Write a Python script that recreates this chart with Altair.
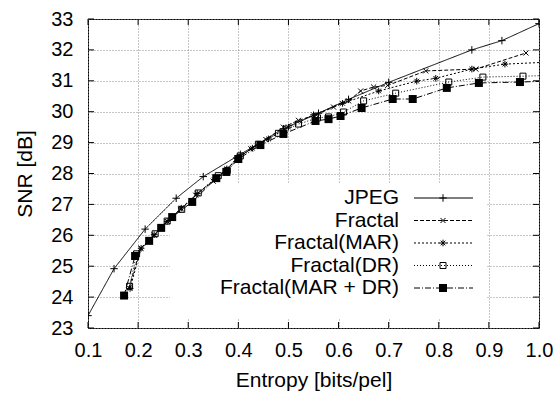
import altair as alt
import pandas as pd

names = ["JPEG", "Fractal", "Fractal(MAR)", "Fractal(DR)", "Fractal(MAR + DR)"]

jpeg_x = [0.1, 0.152, 0.214, 0.276, 0.33, 0.404, 0.49, 0.56, 0.62, 0.70, 0.866, 0.926, 1.0]
jpeg_y = [23.4, 24.92, 26.2, 27.2, 27.9, 28.62, 29.45, 29.95, 30.4, 30.95, 32.0, 32.3, 32.85]

frac_x = [0.182, 0.205, 0.232, 0.258, 0.285, 0.315, 0.35, 0.375, 0.395, 0.425, 0.455, 0.49, 0.52,
          0.555, 0.59, 0.62, 0.644, 0.67, 0.698, 0.774, 0.874, 0.974]
frac_y = [24.3, 25.58, 26.0, 26.45, 26.85, 27.3, 27.75, 28.1, 28.45, 28.8, 29.1, 29.5, 29.72,
          29.9, 30.15, 30.35, 30.67, 30.8, 30.85, 31.32, 31.38, 31.9]

mar_x = [0.184, 0.206, 0.232, 0.258, 0.286, 0.318, 0.352, 0.377, 0.398, 0.428, 0.46, 0.5, 0.55,
         0.608, 0.68, 0.756, 0.794, 0.866, 0.932, 1.04]
mar_y = [24.28, 25.58, 26.02, 26.45, 26.88, 27.35, 27.8, 28.15, 28.48, 28.82, 29.12, 29.5, 29.9,
         30.27, 30.67, 30.99, 31.08, 31.38, 31.54, 31.62]

dr_x = [0.183, 0.197, 0.234, 0.258, 0.287, 0.32, 0.36, 0.378, 0.404, 0.44, 0.48, 0.52, 0.558,
        0.58, 0.61, 0.65, 0.714, 0.82, 0.888, 0.968, 1.04]
dr_y = [24.35, 25.4, 26.05, 26.46, 26.84, 27.37, 27.93, 28.1, 28.57, 28.95, 29.3, 29.6, 29.8,
        29.83, 29.99, 30.35, 30.6, 30.96, 31.12, 31.15, 31.18]

mardr_x = [0.172, 0.194, 0.222, 0.246, 0.268, 0.308, 0.356, 0.376, 0.40, 0.444, 0.49, 0.554,
           0.58, 0.604, 0.646, 0.708, 0.748, 0.816, 0.88, 0.962, 1.04]
mardr_y = [24.05, 25.33, 25.82, 26.24, 26.59, 27.08, 27.85, 28.05, 28.47, 28.92, 29.28, 29.7,
           29.76, 29.86, 30.12, 30.41, 30.41, 30.77, 30.93, 30.96, 31.0]

x_ticks = [0.1, 0.2, 0.3, 0.4, 0.5, 0.6, 0.7, 0.8, 0.9, 1.0]
y_ticks = [23, 24, 25, 26, 27, 28, 29, 30, 31, 32, 33]

rows = []
for nm, xs_, ys_ in zip(names, [jpeg_x, frac_x, mar_x, dr_x, mardr_x],
                        [jpeg_y, frac_y, mar_y, dr_y, mardr_y]):
    for a, b in zip(xs_, ys_):
        rows.append({"series": nm, "x": a, "y": b})
df = pd.DataFrame(rows)

FONT = "Liberation Sans"
W, H = 451, 309

xs = alt.Scale(domain=[0.1, 1.0], nice=False, zero=False)
ys = alt.Scale(domain=[23, 33], nice=False, zero=False)

PLUS = "M-1,0L1,0M0,-1L0,1"
CROSS = "M-0.7,-0.7L0.7,0.7M-0.7,0.7L0.7,-0.7"
STAR = "M-1,0L1,0M0,-1L0,1M-0.7,-0.7L0.7,0.7M-0.7,0.7L0.7,-0.7"

dashes = [[1, 0], [4, 2], [2, 2], [1, 2], [6, 2, 1, 2]]
shapes = [PLUS, CROSS, STAR, "square", "square"]
sizes = [56, 52, 44, 36, 64]
filled = [False, False, False, False, True]

dash_scale = alt.Scale(domain=names, range=dashes)

x_axis = alt.Axis(values=x_ticks, format=".1f", title="Entropy [bits/pel]", grid=True,
                  gridDash=[1, 2], gridColor="#8c8c8c", domain=False, ticks=False,
                  labelFlush=False, labelOverlap=False,
                  labelPadding=12, titlePadding=9)
y_axis = alt.Axis(values=y_ticks, format="d", title="SNR [dB]", grid=True,
                  gridDash=[1, 2], gridColor="#8c8c8c", domain=False, ticks=False,
                  labelFlush=False, labelOverlap=False,
                  labelPadding=15, titlePadding=15)

X = lambda f: alt.X(f, scale=xs, axis=x_axis)
Y = lambda f: alt.Y(f, scale=ys, axis=y_axis)

# legend background (hides grid behind the key; curves drawn on top)
bg = alt.Chart(pd.DataFrame({"a": [0]})).mark_rect(color="white").encode(
    x=alt.value(82), x2=alt.value(399), y=alt.value(164), y2=alt.value(299)
)

base = alt.Chart(df)
lines = base.mark_line(color="black", strokeWidth=1, clip=True).encode(
    x=X("x:Q"), y=Y("y:Q"),
    strokeDash=alt.StrokeDash("series:N", scale=dash_scale, legend=None),
    detail="series:N",
)

layers = [bg, lines]
for i, nm in enumerate(names):
    sub = base.transform_filter(alt.datum.series == nm)
    if filled[i]:
        m = sub.mark_point(shape=shapes[i], size=sizes[i], filled=True, color="black",
                           opacity=1, clip=True)
    else:
        m = sub.mark_point(shape=shapes[i], size=sizes[i], filled=False, color="black",
                           strokeWidth=1, opacity=1, clip=True)
    layers.append(m.encode(x=X("x:Q"), y=Y("y:Q")))

# inward ticks on all four sides
xt_df = pd.DataFrame({"x": x_ticks})
yt_df = pd.DataFrame({"y": y_ticks})
layers += [
    alt.Chart(xt_df).mark_rule(color="black").encode(x=X("x:Q"), y=alt.value(H), y2=alt.value(H - 6)),
    alt.Chart(xt_df).mark_rule(color="black").encode(x=X("x:Q"), y=alt.value(0), y2=alt.value(6)),
    alt.Chart(yt_df).mark_rule(color="black").encode(y=Y("y:Q"), x=alt.value(0), x2=alt.value(6)),
    alt.Chart(yt_df).mark_rule(color="black").encode(y=Y("y:Q"), x=alt.value(W), x2=alt.value(W - 6)),
]

# custom key: label right-aligned, then line sample with marker
leg_df = pd.DataFrame({"series": names})
for i, nm in enumerate(names):
    ly = 179 + 22.5 * i
    leg = alt.Chart(leg_df).transform_filter(alt.datum.series == nm)
    layers.append(leg.mark_text(align="right", baseline="middle", font=FONT, fontSize=21,
                                color="black").encode(
        x=alt.value(311), y=alt.value(ly), text="series:N"))
    layers.append(leg.mark_rule(color="black", strokeWidth=1, strokeDash=dashes[i]).encode(
        x=alt.value(326), x2=alt.value(385), y=alt.value(ly)))
    layers.append(leg.mark_point(shape=shapes[i], size=sizes[i], filled=filled[i],
                                 color="black", strokeWidth=1, opacity=1).encode(
        x=alt.value(355), y=alt.value(ly)))

chart = alt.layer(*layers).properties(
    width=W, height=H,
    autosize=alt.AutoSizeParams(type="none"),
    padding={"left": 88, "top": 19, "right": 17, "bottom": 68},
    background="white",
).configure_view(
    stroke="black", strokeWidth=1
).configure_axis(
    labelFont=FONT, labelFontSize=20, labelColor="black",
    titleFont=FONT, titleFontSize=21, titleFontWeight="normal", titleColor="black",
)

chart.save("out.html", embed_options={"renderer": "svg", "actions": False})
